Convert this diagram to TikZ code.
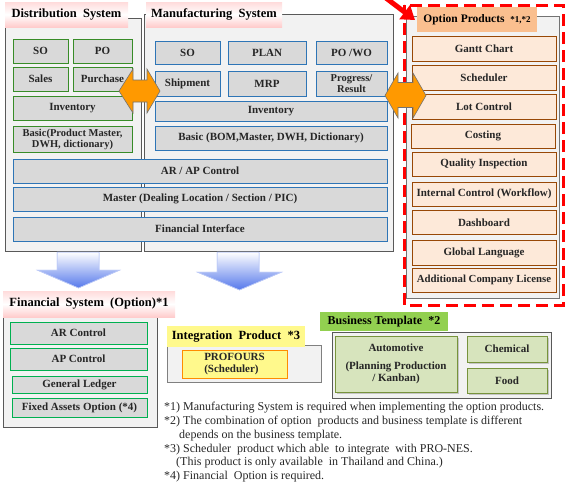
\documentclass[tikz,border=0pt]{standalone}
\usepackage{fontspec}
\setmainfont{Liberation Serif}
\usetikzlibrary{arrows.meta,shadows}
\definecolor{mfgblue}{RGB}{46,117,182}
\definecolor{distgreen}{RGB}{56,140,40}
\definecolor{fingreen}{RGB}{0,176,80}
\definecolor{optbrown}{RGB}{152,72,6}
\definecolor{optfill}{RGB}{253,233,217}
\definecolor{opttab}{RGB}{250,191,143}
\definecolor{tplgreen}{RGB}{146,208,80}
\definecolor{tplfill}{RGB}{215,228,189}
\definecolor{tplolive}{RGB}{119,147,60}
\definecolor{linkorange}{RGB}{255,153,0}
\definecolor{downblue}{RGB}{85,120,235}
\tikzset{
% Panels and their title tabs
panel/.style={draw=black!65,fill=black!5,line width=0.8pt},
pink tab/.style={top color=red!14,bottom color=red!20,middle color=white,inner sep=0pt,font=\fontsize{12.5}{14}\selectfont\bfseries},
% Boxes inside the panels
dist box/.style={draw=distgreen,fill=black!15,line width=0.7pt,inner sep=1pt,text=black!85,font=\fontsize{11}{12}\selectfont\bfseries,align=center},
mfg box/.style={dist box,draw=mfgblue},
fin box/.style={dist box,draw=fingreen},
opt box/.style={dist box,draw=optbrown,fill=optfill},
tpl box/.style={dist box,draw=tplolive,fill=tplfill,drop shadow={shadow xshift=2pt,shadow yshift=-2pt,fill=black!40}},
size/.style 2 args={minimum width=#1,minimum height=#2},
link arrow/.style={fill=linkorange,draw=black!55,line width=0.6pt},
down arrow/.style={top color=white,bottom color=downblue,draw=downblue!40,line width=0.5pt}
}
\begin{document}
\begin{tikzpicture}[x=1pt,y=-1pt]
        \useasboundingbox (0,0) rectangle (567,491);
        % Distribution and Manufacturing panels
        \draw[panel] (5,18) rectangle (141,251);
        \draw[panel] (144,14) rectangle (393,251);
        \node(disttab)[pink tab,size={123pt}{25pt}] at (66.5,14.5) {Distribution\ \ System};
        \node(mfgtab)[pink tab,size={136pt}{25pt}] at (214,14.5) {Manufacturing\ \ System};
        % Distribution boxes
        \node(dso)[dist box,size={55pt}{24pt}] at (40.5,51) {SO};
        \node(dpo)[dist box,size={59pt}{24pt}] at (102.5,51) {PO};
        \node(dsales)[dist box,size={55pt}{24pt}] at (40.5,79) {Sales};
        \node(dpurch)[dist box,size={59pt}{24pt}] at (102.5,79) {Purchase};
        \node(dinv)[dist box,size={119pt}{24pt}] at (72.5,108) {Inventory};
        \node(dbasic)[dist box,size={119pt}{26pt},font=\fontsize{10.5}{11}\selectfont\bfseries] at (72.5,139) {Basic(Product Master,\\DWH, dictionary)};
        % Manufacturing boxes
        \node(mso)[mfg box,size={65pt}{23pt}] at (187.5,52.5) {SO};
        \node(mplan)[mfg box,size={78pt}{23pt}] at (267,52.5) {PLAN};
        \node(mpo)[mfg box,size={71pt}{23pt}] at (351.5,52.5) {PO /WO};
        \node(mship)[mfg box,size={65pt}{25pt}] at (187.5,83.5) {Shipment};
        \node(mmrp)[mfg box,size={78pt}{25pt}] at (267,83.5) {MRP};
        \node(mprog)[mfg box,size={71pt}{25pt},font=\fontsize{10.5}{11.5}\selectfont\bfseries] at (351.5,83.5) {Progress/\\Result};
        \node(minv)[mfg box,size={232pt}{20pt}] at (271,111) {Inventory};
        \node(mbasic)[mfg box,size={232pt}{24pt}] at (271,138) {Basic\ (BOM,Master, DWH, Dictionary)};
        % Shared boxes
        \node(arap)[mfg box,size={374pt}{24pt}] at (200,171) {AR / AP Control};
        \node(master)[mfg box,size={374pt}{24pt}] at (200,199) {Master\ (Dealing Location / Section / PIC)};
        \node(finif)[mfg box,size={374pt}{24pt}] at (200,229) {Financial Interface};
        % Option products
        \draw[panel,draw=black!55,line width=0.6pt] (406,16) rectangle (559,298);
        \draw[red,line width=3pt,dash pattern=on 12pt off 6pt] (404,5) rectangle (563,305);
        \node(opttab)[fill=opttab,size={120pt}{25pt},inner sep=0pt,font=\fontsize{11.5}{13}\selectfont\bfseries] at (477,19.5) {Option Products\ \ {\fontsize{9}{10}\selectfont *1,*2}};
        \node(gantt)[opt box,size={144pt}{25pt}] at (484,48.5) {Gantt Chart};
        \node(sched)[opt box,size={144pt}{25pt}] at (484,77.5) {Scheduler};
        \node(lot)[opt box,size={144pt}{25pt}] at (484,106.5) {Lot Control};
        \node(cost)[opt box,size={144pt}{24pt}] at (483,136) {Costing};
        \node(qual)[opt box,size={144pt}{24pt}] at (484,164) {Quality Inspection};
        \node(intctl)[opt box,size={144pt}{24pt}] at (484,194) {Internal Control (Workflow)};
        \node(dash)[opt box,size={144pt}{24pt}] at (484,222.5) {Dashboard};
        \node(glob)[opt box,size={144pt}{25pt}] at (484,252.5) {Global Language};
        \node(addlic)[opt box,size={144pt}{24pt},font=\fontsize{10.8}{12}\selectfont\bfseries] at (484,280) {Additional Company License};
        \draw[red,line width=5pt,-{Triangle[length=13pt,width=17pt]}] (382,-5) -- (415,20);
        % Orange links between the systems
        \filldraw[link arrow] (119,91) -- ++(14,-22) -- ++(0,11) -- ++(14,0) -- ++(0,-11) -- ++(13,22)
          -- ++(-13,22) -- ++(0,-11) -- ++(-14,0) -- ++(0,11) -- cycle;
        \filldraw[link arrow] (385,95.5) -- ++(13,-22.5) -- ++(0,9.5) -- ++(15,0) -- ++(0,-9.5) -- ++(13,22.5)
          -- ++(-13,22.5) -- ++(0,-10.5) -- ++(-15,0) -- ++(0,10.5) -- cycle;
        % Blue arrows down to the financial side
        \shade[down arrow] (57,252) -- (99,252) -- (99,270) -- (120,270) -- (78.5,288) -- (37,270) -- (57,270) -- cycle;
        \draw[downblue!40,line width=0.5pt] (57,252) -- (99,252) -- (99,270) -- (120,270) -- (78.5,288) -- (37,270) -- (57,270) -- cycle;
        \shade[down arrow] (217,252) -- (259,252) -- (259,272) -- (282,272) -- (239.5,290) -- (197,272) -- (217,272) -- cycle;
        \draw[downblue!40,line width=0.5pt] (217,252) -- (259,252) -- (259,272) -- (282,272) -- (239.5,290) -- (197,272) -- (217,272) -- cycle;
        % Financial system
        \draw[panel] (3,311) rectangle (157,427);
        \node(fintab)[pink tab,size={172pt}{26pt}] at (89,304) {Financial\ \ System\ \ (Option)*1};
        \node(arc)[fin box,size={137pt}{22pt}] at (78.5,333) {AR Control};
        \node(apc)[fin box,size={137pt}{22pt}] at (78.5,359) {AP Control};
        \node(gl)[fin box,size={135pt}{17pt}] at (79.5,384.5) {General Ledger};
        \node(fixed)[fin box,size={135pt}{19pt}] at (79.5,407.5) {Fixed Assets Option (*4)};
        % Integration product
        \draw[panel,draw=black!50] (167,345) rectangle (321,382);
        \node(inttab)[fill=yellow!45,size={138pt}{21pt},inner sep=0pt,font=\fontsize{12.5}{14}\selectfont\bfseries] at (236,336.5) {Integration\ \ Product\ \ *3};
        \node(profours)[dist box,draw=orange!90!yellow,fill=yellow!45,size={105pt}{28pt},align=left] at (234.5,364) {PROFOURS\\(Scheduler)};
        % Business template
        \draw[panel] (332,332) rectangle (551,398);
        \node(tpltab)[fill=tplgreen,size={128pt}{19pt},inner sep=0pt,font=\fontsize{12}{13}\selectfont\bfseries] at (384,321.5) {Business Template\ \ *2};
        \node(auto)[tpl box,size={122pt}{56pt}] at (396,364) {Automotive\\[6pt](Planning Production\\/ Kanban)};
        \node(chem)[tpl box,size={80pt}{26pt}] at (507,349) {Chemical};
        \node(food)[tpl box,size={80pt}{25pt}] at (507,380.5) {Food};
        % Notes
        \node(notes)[anchor=north west,align=left,inner sep=0pt,text=black!85,font=\fontsize{12}{13.8}\selectfont] at (164,402)
          {*1) Manufacturing System is required when implementing the option products.\\
           *2) The combination of option\ \ products and business template is different\\
           \hspace{15pt}depends on the business template.\\
           *3) Scheduler\ \ product which able\ \ to integrate\ \ with PRO-NES.\\
           \hspace{12pt}(This product is only available\ \ in Thailand and China.)\\
           *4) Financial\ \ Option is required.};
      \end{tikzpicture}
\end{document}
